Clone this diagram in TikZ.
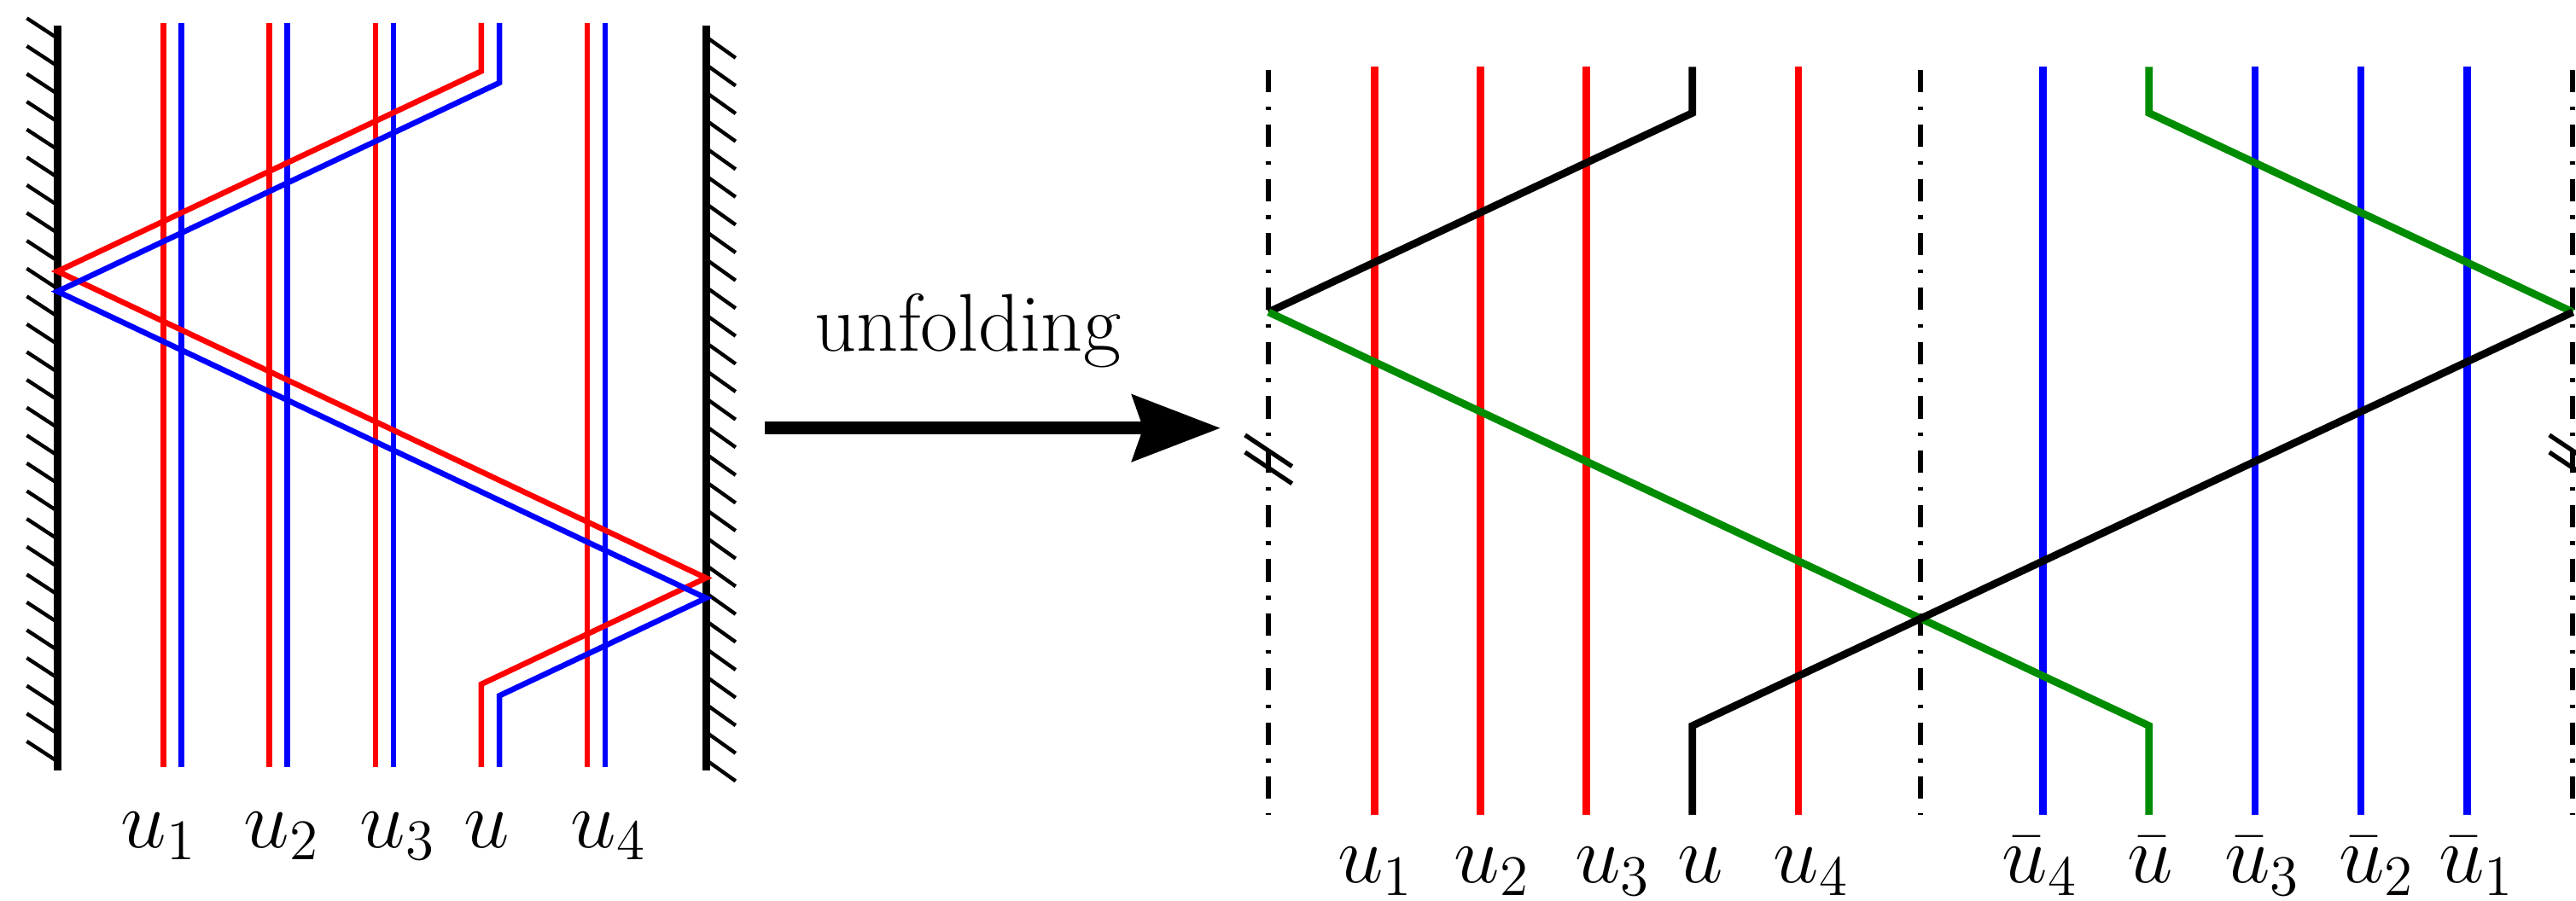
\RequirePackage{fix-cm}
\documentclass[tikz,border=0pt]{standalone}
\usetikzlibrary{arrows.meta}
\definecolor{darkgreen}{RGB}{0,140,0}
\tikzset{
	wall/.style={line width=2.1pt},
	hatch/.style={line width=1pt},
	brk/.style={line width=1.2pt},
	ray/.style={line width=1.5pt},
	bray/.style={line width=2pt},
	mirror/.style={line width=1.4pt,dash pattern=on 6pt off 3.8pt on 1pt off 3.8pt},
	lbl/.style={anchor=base,inner sep=0pt,font=\fontsize{22}{26}\selectfont},
}
\begin{document}
\begin{tikzpicture}[x=1cm,y=1cm]
	\useasboundingbox (-0.543,-1.265) rectangle (23.77,7.242);
	% walls with hatching
	\draw[wall] (0,-0.03) -- (0,7);
	\draw[wall] (6.12,-0.03) -- (6.12,7);
	\foreach \i in {0,...,26} {
		\draw[hatch] (0,6.88-\i*0.2626) -- ++(-0.29,0.19);
		\draw[hatch] (6.12,6.895-\i*0.2626) -- ++(0.28,-0.2);
	}
	% straight rays
	\foreach \k in {1,2,3,5} {
		\draw[ray,red] (\k,0) -- (\k,7.025);
		\draw[ray,blue] (\k+0.17,0) -- (\k+0.17,7.025);
	}
	% reflected rays
	\draw[ray,red] (4,7.025) -- (4,6.57) -- (0,4.68) -- (6.12,1.785) -- (4,0.782) -- (4,0);
	\draw[ray,blue] (4.17,7.025) -- (4.17,6.46) -- (0,4.49) -- (6.12,1.595) -- (4.17,0.673) -- (4.17,0);
	% labels
	\node[lbl] (lu1) at (0.955,-0.76) {$u_1$};
	\node[lbl] (lu2) at (2.115,-0.76) {$u_2$};
	\node[lbl] (lu3) at (3.21,-0.76) {$u_3$};
	\node[lbl] (lu) at (4.05,-0.76) {$u$};
	\node[lbl] (lu4) at (5.2,-0.76) {$u_4$};

	% arrow
	\coordinate (arrS) at (6.675,3.2);
	\coordinate (arrE) at (10.977,3.2);
	\draw[line width=3.5pt,-{Stealth[length=8.3mm,width=6.2mm,inset=1mm]}] (arrS) -- (arrE);
	\node[lbl] (unf) at (8.59,3.925) {unfolding};

	% unfolded picture
	\foreach \x in {11.43,17.585,23.74}
		\draw[mirror] (\x,6.58) -- (\x,-0.45);
	\foreach \k in {1,2,3,5} {
		\draw[bray,red] (11.43+\k,-0.45) -- ++(0,7.06);
		\draw[bray,blue] (23.74-\k,-0.45) -- ++(0,7.06);
	}
	\draw[bray] (15.43,6.61) -- (15.43,6.175) -- (11.43,4.295);
	\draw[bray,darkgreen] (11.43,4.295) -- (19.74,0.389) -- (19.74,-0.45);
	\draw[bray,darkgreen] (19.74,6.61) -- (19.74,6.175) -- (23.74,4.295);
	\draw[bray] (23.74,4.295) -- (15.43,0.389) -- (15.43,-0.45);
	% break marks
	\foreach \x in {11.43,23.74} {
		\draw[brk] (\x-0.222,3.134) -- (\x+0.222,2.838);
		\draw[brk] (\x-0.222,2.972) -- (\x+0.222,2.676);
	}
	% labels
	\node[lbl] (ru1) at (12.44,-1.095) {$u_1$};
	\node[lbl] (ru2) at (13.54,-1.095) {$u_2$};
	\node[lbl] (ru3) at (14.68,-1.095) {$u_3$};
	\node[lbl] (ru) at (15.51,-1.095) {$u$};
	\node[lbl] (ru4) at (16.55,-1.095) {$u_4$};
	\node[lbl] (rb4) at (18.71,-1.095) {$\bar u_4$};
	\node[lbl] (rb) at (19.75,-1.095) {$\bar u$};
	\node[lbl] (rb3) at (20.81,-1.095) {$\bar u_3$};
	\node[lbl] (rb2) at (21.89,-1.095) {$\bar u_2$};
	\node[lbl] (rb1) at (22.83,-1.095) {$\bar u_1$};
\end{tikzpicture}
\end{document}
